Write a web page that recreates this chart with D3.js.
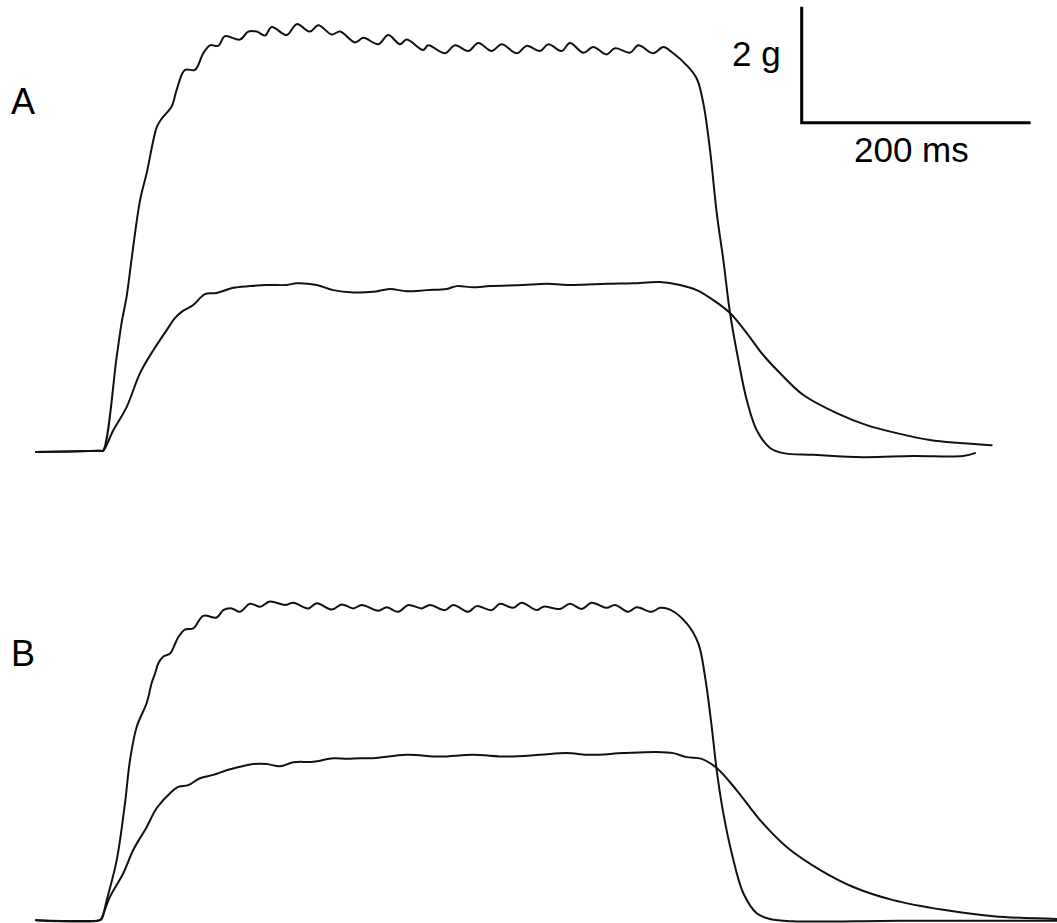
<!DOCTYPE html>
<html>
<head>
<meta charset="utf-8">
<script src="https://cdn.jsdelivr.net/npm/d3@7"></script>
<style>
  html, body { margin: 0; padding: 0; background: #fff; }
  #outer { width: 1057px; height: 923px; overflow: hidden; }
  text { font-family: "Liberation Sans", Arial, sans-serif; fill: #000; }
</style>
</head>
<body>
<div id="outer"></div>
<script>
////////// Data: [time (ms), force (g)] //////////
const panelLabels = ['A', 'B'];

const traceAHigh = [
  [0, 0.0], [56.3, 0.02], [58.9, 0.02], [71.0, 1.67], [75.4, 2.27], [79.8, 2.73], [84.2, 3.39],
  [91.5, 4.40], [97.4, 4.88], [103.2, 5.45], [106.2, 5.68], [110.6, 5.83], [119.3, 6.04],
  [123.7, 6.33], [131.0, 6.68], [139.8, 6.68], [147.1, 6.97], [153.0, 7.11], [160.3, 7.10],
  [166.2, 7.27], [179.4, 7.21], [186.7, 7.35], [194.1, 7.35], [201.4, 7.28], [207.3, 7.43],
  [220.5, 7.29], [229.3, 7.48], [241.0, 7.35], [248.3, 7.46], [260.1, 7.30], [267.4, 7.35],
  [280.6, 7.16], [287.9, 7.24], [301.1, 7.13], [309.8, 7.29], [320.1, 7.13], [326.0, 7.21],
  [340.6, 7.03], [345.0, 7.11], [359.7, 6.97], [368.5, 7.11], [380.2, 7.01], [389.0, 7.15],
  [400.8, 7.01], [409.6, 7.13], [422.8, 6.97], [431.6, 7.10], [443.3, 7.01], [450.6, 7.13],
  [462.3, 7.01], [469.6, 7.15], [481.4, 6.98], [490.1, 7.08], [501.9, 6.95], [509.2, 7.06],
  [522.4, 6.98], [529.7, 7.11], [542.9, 6.97], [551.7, 7.08], [560.5, 6.97], [572.3, 6.76],
  [581.1, 6.53], [586.9, 6.10], [592.8, 5.28], [598.7, 4.18], [604.5, 3.36], [610.4, 2.43],
  [617.7, 1.61], [625.1, 0.91], [633.9, 0.38], [645.6, 0.07], [657.2, -0.02], [683.6, -0.05],
  [727.3, -0.09], [771.3, -0.07], [815.3, -0.07], [825.8, -0.02]
];

const traceALow = [
  [0, 0.0], [56.3, 0.02], [58.9, 0.02], [68.0, 0.38], [79.8, 0.79], [91.5, 1.38], [103.2, 1.78],
  [114.9, 2.13], [122.2, 2.34], [128.1, 2.45], [138.3, 2.57], [148.6, 2.76], [158.9, 2.78],
  [173.5, 2.87], [188.2, 2.90], [202.9, 2.92], [220.5, 2.92], [229.3, 2.95], [246.9, 2.92],
  [261.5, 2.83], [279.1, 2.79], [296.4, 2.80], [311.3, 2.85], [326.0, 2.81], [343.6, 2.83],
  [361.2, 2.85], [370.0, 2.90], [384.3, 2.88], [399.3, 2.90], [428.3, 2.92], [449.2, 2.94],
  [472.3, 2.92], [501.9, 2.94], [525.1, 2.95], [548.8, 2.97], [566.4, 2.92], [581.1, 2.83],
  [595.4, 2.66], [610.4, 2.43], [625.1, 2.08], [639.4, 1.70], [654.3, 1.38], [674.6, 1.00],
  [704.2, 0.68], [730.6, 0.47], [757.0, 0.33], [786.3, 0.21], [809.8, 0.16], [840.5, 0.12]
];

const traceBHigh = [
  [0, -0.02], [56.3, -0.02], [57.8, 0.0], [62.2, 0.33], [71.0, 1.03], [78.3, 2.03], [82.7, 2.78],
  [88.6, 3.36], [97.4, 3.78], [101.8, 4.13], [104.7, 4.29], [107.6, 4.47], [112.0, 4.59],
  [117.9, 4.64], [125.2, 4.93], [131.0, 5.06], [138.3, 5.08], [147.1, 5.30], [158.9, 5.27],
  [164.7, 5.40], [172.1, 5.43], [179.4, 5.37], [188.2, 5.51], [197.0, 5.46], [205.8, 5.55],
  [219.0, 5.49], [226.3, 5.53], [239.5, 5.43], [246.9, 5.52], [260.1, 5.41], [268.9, 5.50],
  [279.1, 5.43], [286.5, 5.49], [301.1, 5.39], [308.4, 5.45], [318.6, 5.37], [327.4, 5.49],
  [339.2, 5.43], [346.5, 5.49], [359.7, 5.40], [367.0, 5.49], [380.2, 5.37], [387.5, 5.47],
  [400.8, 5.40], [408.1, 5.51], [419.8, 5.44], [427.2, 5.53], [440.4, 5.40], [446.2, 5.46],
  [460.9, 5.42], [469.6, 5.51], [479.9, 5.42], [488.7, 5.53], [501.9, 5.44], [509.2, 5.49],
  [520.9, 5.37], [528.3, 5.45], [541.5, 5.37], [548.8, 5.44], [557.6, 5.41], [572.3, 5.17],
  [582.5, 4.82], [588.4, 4.24], [594.3, 3.36], [598.7, 2.60], [604.5, 1.85], [611.9, 1.15],
  [622.1, 0.45], [633.9, 0.10], [645.6, 0.0], [665.8, -0.04], [760, -0.03], [898, -0.03]
];

const traceBLow = [
  [0, -0.02], [56.3, -0.02], [57.8, 0.02], [65.1, 0.39], [76.8, 0.80], [85.6, 1.21], [97.4, 1.61],
  [106.2, 1.94], [117.9, 2.20], [125.2, 2.31], [133.9, 2.34], [144.2, 2.46], [155.9, 2.52],
  [167.7, 2.60], [179.4, 2.66], [191.1, 2.71], [202.9, 2.71], [214.6, 2.67], [226.3, 2.74],
  [243.9, 2.75], [261.5, 2.81], [273.3, 2.80], [285.0, 2.81], [296.4, 2.81], [326.0, 2.87],
  [355.3, 2.84], [384.3, 2.87], [414.0, 2.84], [443.3, 2.87], [466.7, 2.90], [487.2, 2.87],
  [516.5, 2.90], [545.9, 2.92], [560.5, 2.90], [572.3, 2.83], [585.5, 2.80], [598.7, 2.64],
  [616.3, 2.25], [636.8, 1.73], [660.2, 1.26], [689.5, 0.86], [718.8, 0.56], [754.0, 0.33],
  [798.0, 0.16], [841.9, 0.05], [898, 0.0]
];

// scale bar values
const scaleBarTime = 200;   // ms
const scaleBarForce = 2;    // g
const scaleBarLabels = ['2 g', '200 ms'];


////////// Layout //////////
const width = 1057;
const height = 923;
const pxPerMs = 1.137;
const pxPerG = 57.2;
const traceLeft = 36;
const baselineA = 452;
const baselineB = 919;

const x = d3.scaleLinear()
  .domain([0, 900])
  .range([traceLeft, traceLeft + 900 * pxPerMs]);

const yA = d3.scaleLinear()
  .domain([0, 8])
  .range([baselineA, baselineA - 8 * pxPerG]);

const yB = d3.scaleLinear()
  .domain([0, 8])
  .range([baselineB, baselineB - 8 * pxPerG]);

const svg = d3.select('#outer').append('svg')
  .attr('width', width)
  .attr('height', height);

svg.append('rect')
  .attr('width', width)
  .attr('height', height)
  .attr('fill', '#fff');

const drawTrace = (data, yScale) => {
  const line = d3.line()
    .x(d => x(d[0]))
    .y(d => yScale(d[1]))
    .curve(d3.curveCatmullRom.alpha(0.5));
  svg.append('path')
    .datum(data)
    .attr('d', line)
    .attr('fill', 'none')
    .attr('stroke', '#111')
    .attr('stroke-width', 2)
    .attr('stroke-linejoin', 'round')
    .attr('stroke-linecap', 'round');
};

drawTrace(traceAHigh, yA);
drawTrace(traceALow, yA);
drawTrace(traceBHigh, yB);
drawTrace(traceBLow, yB);

// panel labels
svg.append('text')
  .attr('x', 11)
  .attr('y', 114)
  .style('font-size', '36px')
  .text(panelLabels[0]);

svg.append('text')
  .attr('x', 11)
  .attr('y', 666)
  .style('font-size', '36px')
  .text(panelLabels[1]);

// scale bar (lengths come from the scales)
const barX = 801.7;
const barY = 122.7;
const barW = x(scaleBarTime) - x(0);
const barH = yA(0) - yA(scaleBarForce);

svg.append('path')
  .attr('d', `M${barX},${barY - barH} V${barY} H${barX + barW}`)
  .attr('fill', 'none')
  .attr('stroke', '#000')
  .attr('stroke-width', 3)
  .attr('stroke-linecap', 'square');

svg.append('text')
  .attr('x', barX - 21)
  .attr('y', 66)
  .attr('text-anchor', 'end')
  .style('font-size', '35px')
  .text(scaleBarLabels[0]);

svg.append('text')
  .attr('x', barX + barW / 2 - 4)
  .attr('y', 162)
  .attr('text-anchor', 'middle')
  .style('font-size', '35px')
  .text(scaleBarLabels[1]);
</script>
</body>
</html>
